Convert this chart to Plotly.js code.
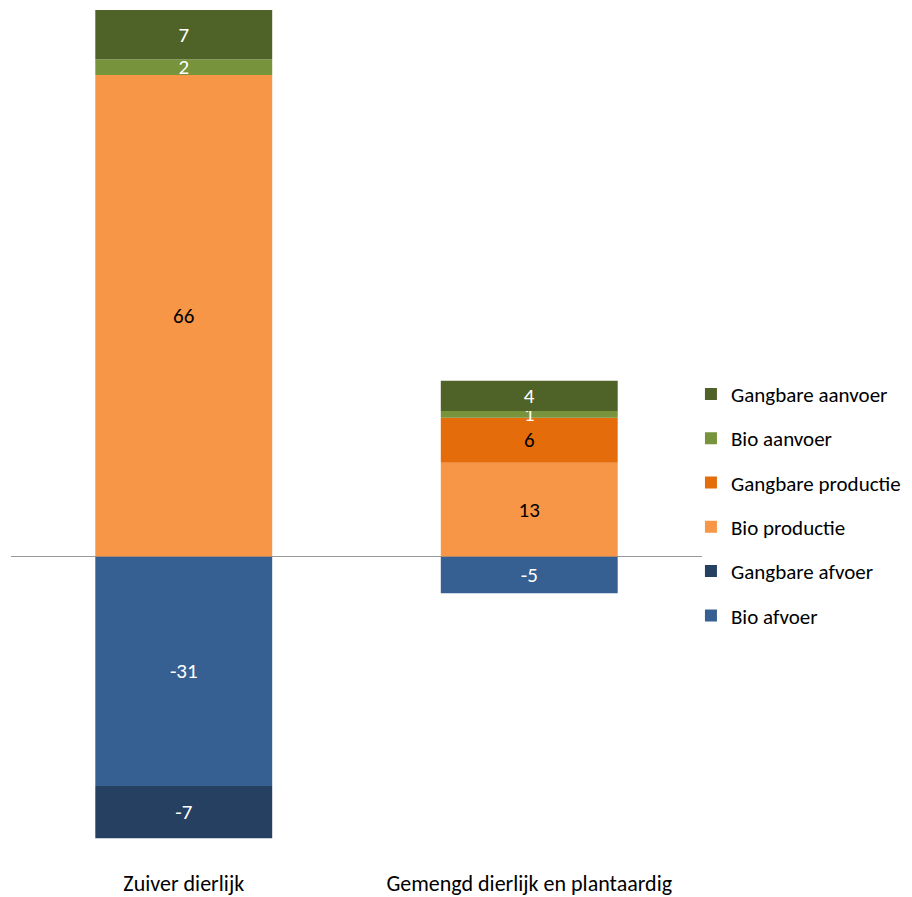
<!DOCTYPE html>
<html>
<head>
<meta charset="utf-8">
<script src="https://cdn.plot.ly/plotly-3.0.1.min.js"></script>
<style>html,body{margin:0;padding:0;background:#fff;}#chart{width:912px;height:897px;}</style>
</head>
<body>
<div id="chart"></div>
<script>
var categories = ["Zuiver dierlijk", "Gemengd dierlijk en plantaardig"];
var bioAfvoer = [-31.35, -5.03];
var gangbareAfvoer = [-7.14, null];
var bioProductie = [65.78, 12.81];
var gangbareProductie = [null, 6.15];
var bioAanvoer = [2.14, 0.92];
var gangbareAanvoer = [6.73, 4.14];

var FONT = "Carlito, Lato, 'Liberation Sans', sans-serif";

function mk(name, y, color, txtColor, rank) {
  return {
    type: 'bar', name: name, x: categories, y: y,
    marker: {color: color},
    texttemplate: '%{y:.0f}',
    textposition: 'inside',
    insidetextanchor: 'middle',
    textangle: 0,
    constraintext: 'none',
    textfont: {family: FONT, size: 21, color: txtColor},
    legendgroup: name,
    legendrank: rank,
    hoverinfo: 'none'
  };
}

var data = [
  mk('Bio afvoer', bioAfvoer, '#376092', '#ffffff', 6),
  mk('Gangbare afvoer', gangbareAfvoer, '#254061', '#ffffff', 5),
  mk('Bio productie', bioProductie, '#F79646', '#000000', 4),
  mk('Gangbare productie', gangbareProductie, '#E46C0A', '#000000', 3),
  mk('Bio aanvoer', bioAanvoer, '#77933C', '#ffffff', 2),
  mk('Gangbare aanvoer', gangbareAanvoer, '#4F6228', '#ffffff', 1)
];

var layout = {
  width: 912, height: 897,
  barmode: 'relative',
  bargap: 0.488,
  margin: {l: 11, r: 210, t: 10, b: 47, autoexpand: false},
  paper_bgcolor: '#ffffff', plot_bgcolor: '#ffffff',
  showlegend: true,
  legend: {
    x: 0.984, xanchor: 'left', y: 0.411, yanchor: 'middle',
    xref: 'paper', yref: 'paper',
    traceorder: 'grouped',
    tracegroupgap: 14,
    font: {family: FONT, size: 21, color: '#000000'},
    bgcolor: 'rgba(0,0,0,0)'
  },
  xaxis: {
    showline: false, showgrid: false, zeroline: false, ticks: '',
    tickfont: {family: FONT, size: 22, color: '#000000'},
    ticklabelstandoff: 18
  },
  yaxis: {
    range: [-40.09, 74.66],
    showticklabels: false, showgrid: false, showline: false, ticks: '',
    zeroline: true, zerolinecolor: '#999999', zerolinewidth: 1.5
  },
  font: {family: FONT}
};

Plotly.newPlot('chart', data, layout, {displayModeBar: false, staticPlot: true});
</script>
</body>
</html>
